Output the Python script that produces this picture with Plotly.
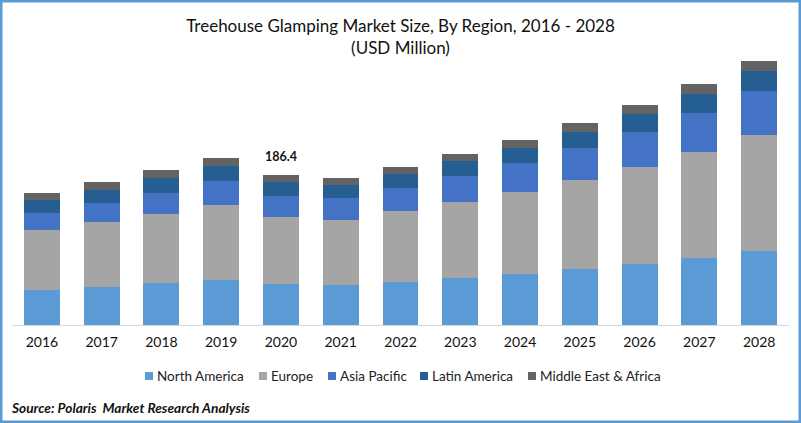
import plotly.graph_objects as go

years = ["2016", "2017", "2018", "2019", "2020", "2021", "2022",
         "2023", "2024", "2025", "2026", "2027", "2028"]

# USD million
north_america = [43.5, 47.2, 52.2, 55.9, 51.0, 49.7, 53.4, 58.4, 63.4, 69.6, 75.8, 83.3, 92.0]
europe = [74.6, 80.8, 85.7, 93.2, 83.3, 80.8, 88.2, 94.4, 101.9, 110.6, 120.5, 131.7, 144.2]
asia_pacific = [21.1, 23.6, 26.1, 29.8, 26.1, 27.3, 28.6, 32.3, 36.0, 39.8, 43.5, 48.5, 54.7]
latin_america = [16.2, 16.2, 18.6, 18.6, 17.4, 16.2, 17.4, 18.6, 18.6, 19.9, 23.0, 23.6, 24.9]
middle_east = [8.7, 9.9, 9.9, 9.9, 8.6, 8.7, 8.7, 8.7, 9.9, 11.2, 10.6, 12.4, 12.4]

series = [
    ("North America", north_america, "#5B9BD5"),
    ("Europe", europe, "#A5A5A5"),
    ("Asia Pacific", asia_pacific, "#4472C4"),
    ("Latin America", latin_america, "#255E91"),
    ("Middle East & Africa", middle_east, "#636363"),
]

W, H = 801, 423
L, R, T, B = 12, 12, 40, 98
FONT = "Lato, Carlito, Calibri, sans-serif"


def px_x(x):
    return (x - L) / (W - L - R)


def px_y(y):
    return (H - B - y) / (H - T - B)


fig = go.Figure()
for name, values, color in series:
    fig.add_trace(go.Bar(x=years, y=values, name=name, showlegend=False,
                         marker=dict(color=color, line=dict(width=0))))

# only 2020 carries a total label
i_2020 = years.index("2020")
total_2020 = sum(s[1][i_2020] for s in series)
fig.add_annotation(x=i_2020, y=total_2020, yshift=9, yanchor="bottom", showarrow=False,
                   text="<b>186.4</b>", font=dict(family=FONT, size=12.5, color="#111111"))

fig.update_layout(
    width=W, height=H, autosize=False,
    margin=dict(l=L, r=R, t=T, b=B, pad=0),
    barmode="stack", bargap=0.4,
    paper_bgcolor="white", plot_bgcolor="white",
    font=dict(family=FONT, color="#111111"),
    title=dict(text="Treehouse Glamping Market Size, By Region, 2016 - 2028<br>(USD Million)",
               x=0.5, xanchor="center", y=0.925, yanchor="top",
               font=dict(family=FONT, size=17, color="#111111")),
)
fig.update_xaxes(type="category", range=[-0.5, 12.5], showgrid=False, ticks="", showline=True,
                 linecolor="#D9D9D9", linewidth=1, ticklabelstandoff=4,
                 tickfont=dict(family=FONT, size=14, color="#111111"), fixedrange=True)
fig.update_yaxes(visible=False, range=[0, 354.2], fixedrange=True)

# legend by hand, plotly's own keys are too big and too far from the text
legend_left = [145, 259, 328, 420, 528]
for (name, values, color), x in zip(series, legend_left):
    fig.add_shape(type="rect", xref="paper", yref="paper", x0=px_x(x), x1=px_x(x + 8),
                  y0=px_y(380), y1=px_y(372), line=dict(width=0), fillcolor=color)
    fig.add_annotation(xref="paper", yref="paper", x=px_x(x + 10), y=px_y(376),
                       xanchor="left", yanchor="middle", showarrow=False, text=name,
                       font=dict(family=FONT, size=13.5, color="#222222"))

# source line and the blue frame of the picture
fig.add_annotation(xref="paper", yref="paper", x=px_x(9), y=px_y(407),
                   xanchor="left", yanchor="middle", showarrow=False, align="left",
                   text="<b><i>Source: Polaris  Market Research Analysis</i></b>",
                   font=dict(family=FONT, size=13.7, color="#111111"))
fig.add_shape(type="rect", xref="paper", yref="paper",
              x0=px_x(1), x1=px_x(W - 1), y0=px_y(H - 1), y1=px_y(1),
              line=dict(color="#5B9BD5", width=3), fillcolor="rgba(0,0,0,0)")

fig.write_html("out.html", config=dict(displayModeBar=False),
               post_script="document.body.style.margin='0';")
